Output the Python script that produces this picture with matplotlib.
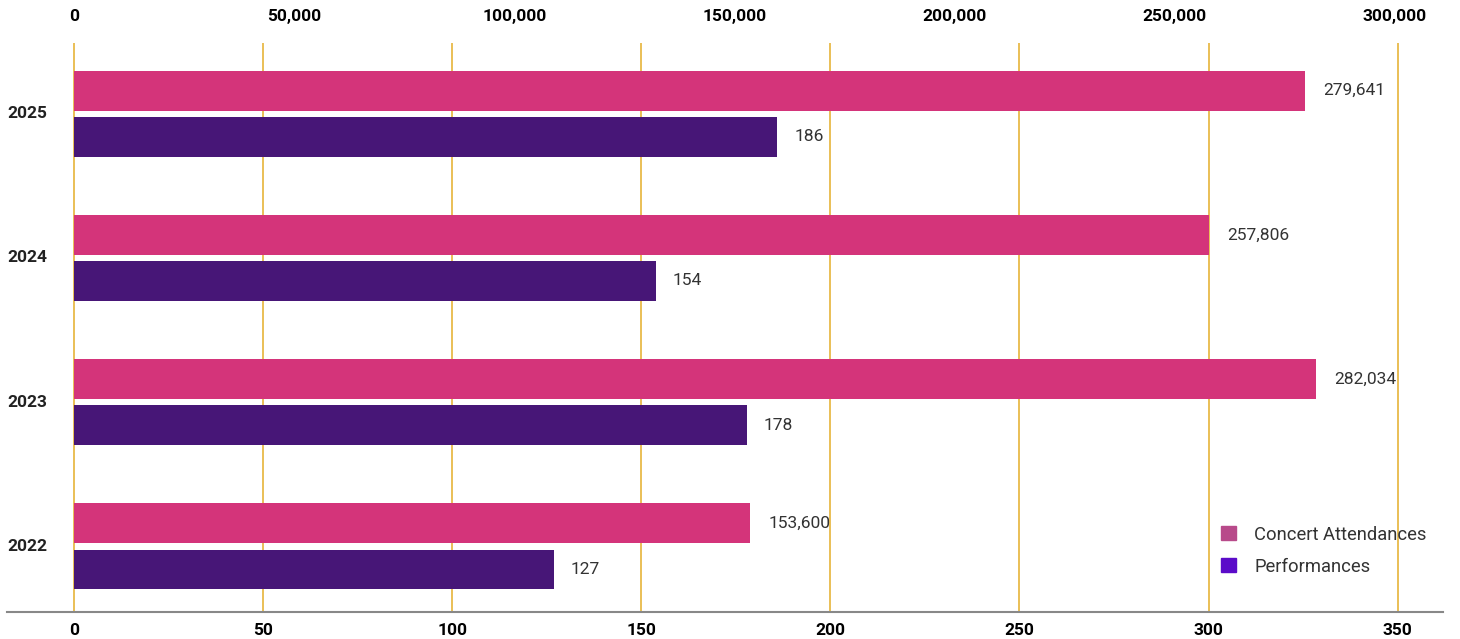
import matplotlib
matplotlib.use("Agg")
import matplotlib.pyplot as plt
from matplotlib.patches import Patch
from matplotlib.ticker import FuncFormatter
import numpy as np

plt.rcParams['font.family'] = ['Roboto', 'DejaVu Sans']

# data
years = ["2022", "2023", "2024", "2025"]
attendances = [153600, 282034, 257806, 279641]
performances = [127, 178, 154, 186]

perf_ticks = [0, 50, 100, 150, 200, 250, 300, 350]
att_ticks = [0, 50000, 100000, 150000, 200000, 250000, 300000]

pink = "#d4347a"
purple = "#471677"
grid_col = "#e6b43a"

fig = plt.figure(figsize=(14.6, 6.39), dpi=100)
ax = fig.add_axes([0.0048, 0.0423, 0.9836, 0.8904])
ax2 = ax.twiny()

y = np.arange(len(years))
h = 0.277
off = 0.1595

# performances on the bottom axis
pb = ax.barh(y - off, performances, height=h, color=purple, zorder=3)
ax.bar_label(pb, labels=[str(v) for v in performances], padding=12,
             fontsize=12.5, color="#333333")
ax.set_xlim(-17.7, 362.0)
ax.set_ylim(-0.454, 3.49)
ax.set_xticks(perf_ticks)
ax.set_yticks([])
ax.grid(axis="x", color=grid_col, linewidth=1.2)
ax.set_axisbelow(True)
ax.tick_params(axis="x", length=0, pad=8, labelsize=12.5)
for t in ax.get_xticklabels():
    t.set_fontweight("bold")
for s in ["top", "left", "right"]:
    ax.spines[s].set_visible(False)
ax.spines["bottom"].set_color("#888888")
ax.spines["bottom"].set_linewidth(1.5)

# attendances on the top axis
ab = ax2.barh(y + off, attendances, height=h, color=pink, zorder=3)
ax2.bar_label(ab, labels=[f"{v:,}" for v in attendances], padding=13,
              fontsize=12.5, color="#333333")
ax2.set_xlim(-15217, 310925)
ax2.set_xticks(att_ticks)
ax2.xaxis.set_major_formatter(FuncFormatter(lambda v, p: f"{int(v):,}"))
ax2.tick_params(axis="x", length=0, pad=14, labelsize=12.5)
for t in ax2.get_xticklabels():
    t.set_fontweight("bold")
for s in ["top", "left", "right", "bottom"]:
    ax2.spines[s].set_visible(False)

# year labels inside the left margin
for yi, yr in zip(y, years):
    ax.text(0.0, yi, yr, transform=ax.get_yaxis_transform(), ha="left",
            va="center", fontsize=12.5, fontweight="bold", color="#222222")

handles = [Patch(color="#b84a8a", label="Concert Attendances"),
           Patch(color="#5b0bc9", label="Performances")]
ax2.legend(handles=handles, loc="lower right", frameon=False, fontsize=13.2,
           handlelength=0.8, handleheight=0.8, handletextpad=1.0,
           labelspacing=0.75, bbox_to_anchor=(1.0, 0.035), labelcolor="#333333")

fig.savefig("out.png", dpi=100)
